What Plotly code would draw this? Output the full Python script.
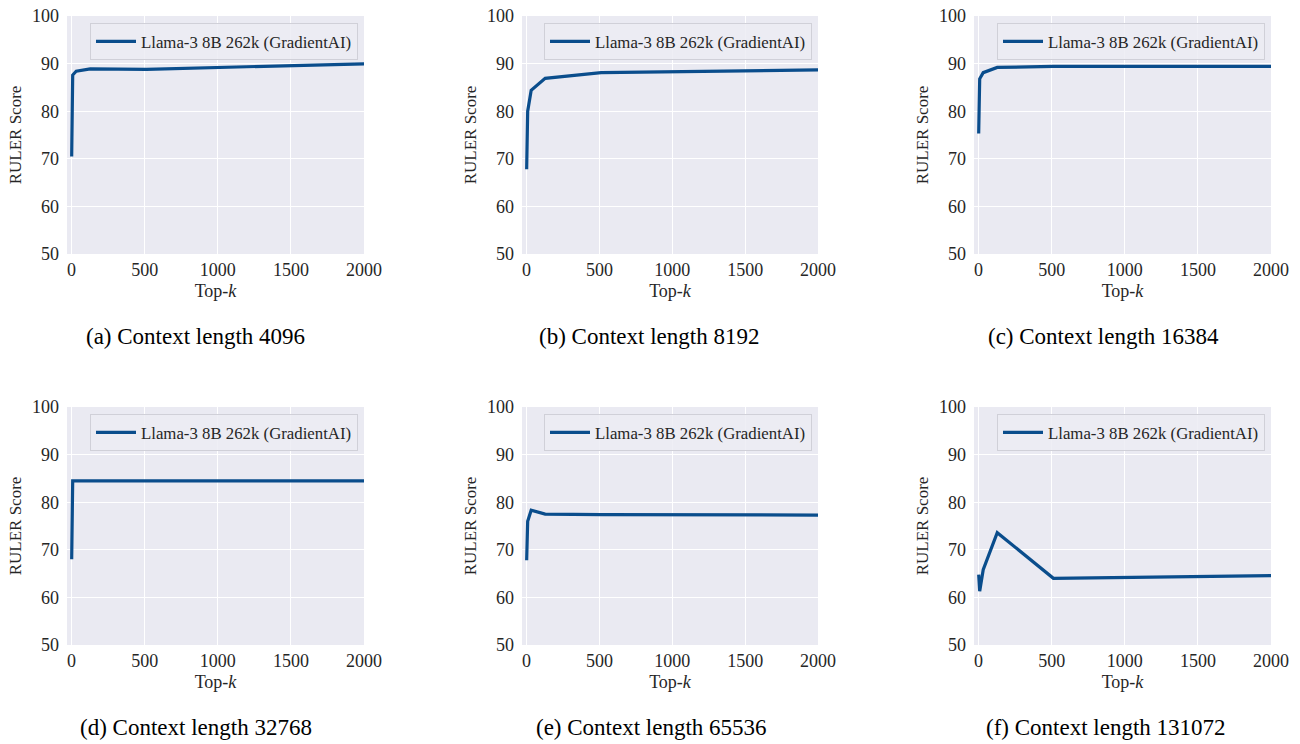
import plotly.graph_objects as go

W, H = 1300, 744

top_k = [1, 8, 32, 128, 512, 2048]
series_name = "Llama-3 8B 262k (GradientAI)"
scores = {
    "4096":   [70.5, 87.6, 88.4, 88.9, 88.8, 90.0],
    "8192":   [67.8, 80.0, 84.4, 86.9, 88.1, 88.7],
    "16384":  [75.3, 86.8, 88.1, 89.2, 89.4, 89.4],
    "32768":  [68.0, 84.5, 84.5, 84.5, 84.5, 84.5],
    "65536":  [67.8, 76.0, 78.3, 77.5, 77.4, 77.3],
    "131072": [64.8, 61.3, 65.8, 73.6, 64.0, 64.6],
}
labels = ["(a)", "(b)", "(c)", "(d)", "(e)", "(f)"]
x_ticks = [0, 500, 1000, 1500, 2000]
y_ticks = [50, 60, 70, 80, 90, 100]

# panel pixel boxes (left, right) and (top, bottom)
cols = [(67, 364), (522, 818), (974, 1271)]
rows = [(16, 254), (407, 645)]
cap_x = [[195, 649, 1103], [196, 651, 1106]]
cap_y = [337, 727]

LINE = "#0a4d8c"
BG = "#EAEAF2"
SERIF = "Liberation Serif, DejaVu Serif, serif"
TXT = "#262626"

fig = go.Figure()
keys = list(scores.keys())
for i, key in enumerate(keys):
    r, c = divmod(i, 3)
    n = i + 1
    xa = "x" if n == 1 else f"x{n}"
    ya = "y" if n == 1 else f"y{n}"
    lg = "legend" if n == 1 else f"legend{n}"
    fig.add_trace(go.Scatter(
        x=top_k, y=scores[key], mode="lines", name=series_name,
        line=dict(color=LINE, width=3.2), xaxis=xa, yaxis=ya, legend=lg,
        showlegend=True,
    ))
    l, rr = cols[c]
    t, b = rows[r]
    xd = [l / W, rr / W]
    yd = [1 - b / H, 1 - t / H]
    axkw = dict(showgrid=True, gridcolor="white", gridwidth=1.2, zeroline=False,
                showline=False, ticks="", automargin=False,
                tickfont=dict(family=SERIF, size=18, color=TXT))
    fig.update_layout(**{
        ("xaxis" if n == 1 else f"xaxis{n}"): dict(
            domain=xd, anchor=ya, range=[-31, 2000], tickvals=x_ticks,
            ticklabelstandoff=3,
            title=dict(text="Top-<i>k</i>", font=dict(family=SERIF, size=18, color=TXT), standoff=5),
            **axkw),
        ("yaxis" if n == 1 else f"yaxis{n}"): dict(
            domain=yd, anchor=xa, range=[50, 100], tickvals=y_ticks,
            ticklabelstandoff=7,
            title=dict(text="RULER Score", font=dict(family=SERIF, size=17, color=TXT), standoff=6),
            **axkw),
        lg: dict(
            x=(rr - 6) / W, y=1 - (t + 7) / H, xanchor="right", yanchor="top",
            bgcolor="rgba(236,236,243,0.85)", bordercolor="#d0d0d8", borderwidth=1,
            font=dict(family=SERIF, size=16.8, color=TXT),
            itemwidth=40,
        ),
    })
    fig.add_shape(type="rect", xref="paper", yref="paper", x0=xd[0], x1=xd[1], y0=yd[0], y1=yd[1],
                  fillcolor=BG, line=dict(width=0), layer="below")
    fig.add_annotation(text=f"{labels[i]} Context length {key}", xref="paper", yref="paper",
                       x=cap_x[r][c] / W, y=1 - cap_y[r] / H, xanchor="center", yanchor="middle",
                       showarrow=False, font=dict(family=SERIF, size=23, color="black"))

fig.update_layout(width=W, height=H, margin=dict(l=0, r=0, t=0, b=0),
                  paper_bgcolor="white", plot_bgcolor=BG)
fig.write_html("out.html")
